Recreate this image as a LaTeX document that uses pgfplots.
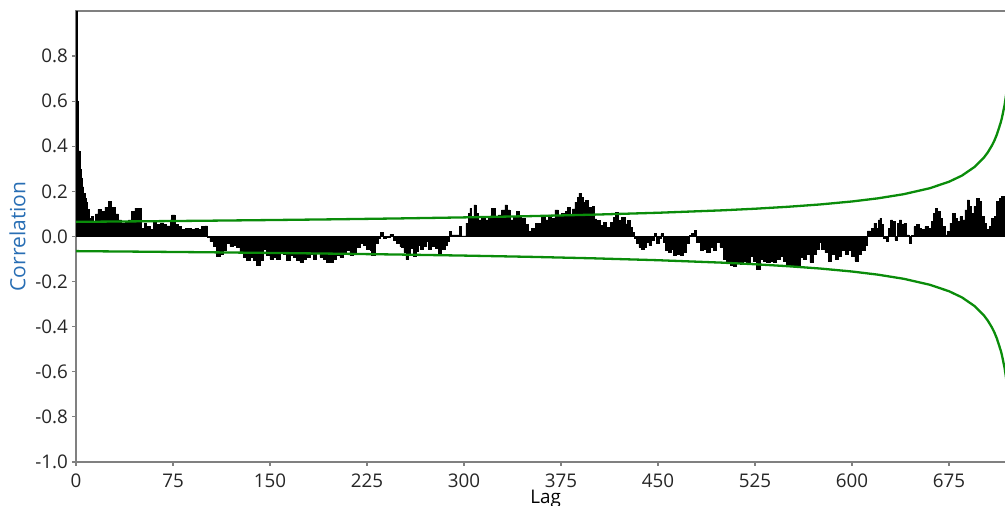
\documentclass[border=0pt]{standalone}
\usepackage{fontspec}
\setmainfont{Open Sans}
\usepackage{pgfplots}
\usepackage{pgfplotstable}
\pgfplotsset{compat=1.18}
\definecolor{bandgreen}{RGB}{10,140,10}
\definecolor{labblue}{RGB}{40,110,180}

\pgfplotstableread{
lag acf
0 1.0
1 0.60
2 0.38
3 0.30
4 0.26
5 0.22
6 0.19
7 0.17
8 0.15
9 0.12
10.5 0.08
12 0.09
13.5 0.067
15 0.10
17 0.12
19.8 0.11
22.4 0.13
25 0.155
27.6 0.13
30.2 0.10
32.7 0.074
35.3 0.06
37.9 0.067
40.5 0.074
43 0.11
45.6 0.126
48.2 0.126
50.8 0.037
52.6 0.06
54.6 0.044
57.2 0.03
59.8 0.067
62.4 0.052
65 0.06
67.5 0.052
70.1 0.047
72.7 0.074
74 0.096
76.5 0.052
79.1 0.044
81.7 0.03
84.3 0.037
86.8 0.037
89.4 0.033
92 0.037
94.6 0.03
97.2 0.044
99.7 0.047
101.5 -0.005
103.6 -0.022
106.2 -0.044
108.7 -0.089
111.3 -0.081
113.9 -0.06
116.5 -0.03
119 -0.044
121.6 -0.037
124.2 -0.05
126.8 -0.069
129.3 -0.091
131.9 -0.106
134.5 -0.091
137.1 -0.106
139.6 -0.128
142.2 -0.106
144.8 -0.055
147.4 -0.084
150 -0.099
152.5 -0.091
155.1 -0.099
157.7 -0.069
160.3 -0.077
162.8 -0.106
165.4 -0.084
168 -0.091
170.6 -0.106
173.1 -0.114
175.7 -0.099
178.3 -0.091
180.9 -0.077
183.5 -0.099
186 -0.069
188.6 -0.091
191.2 -0.099
193.8 -0.114
196.3 -0.114
198.9 -0.099
201.5 -0.084
204.1 -0.091
206.7 -0.077
209.2 -0.062
211.8 -0.084
214.4 -0.069
217 -0.047
219.5 -0.032
222.1 -0.04
224.7 -0.055
227.3 -0.062
228.6 -0.084
231.1 -0.032
233.7 -0.01
235.5 0.019
237.6 -0.01
240.2 -0.003
242.7 0.009
245.3 -0.018
247.9 -0.032
250.5 -0.045
251.8 -0.05
253.6 -0.07
255.1 -0.103
256.9 -0.074
258.7 -0.052
260.8 -0.088
262.9 -0.066
264.7 -0.037
266.5 -0.059
268.5 -0.044
270.6 -0.022
272.4 -0.059
275 -0.044
277.6 -0.052
280.1 -0.074
282.7 -0.059
285.3 -0.037
287.1 -0.022
288.6 0.022
290.4 0.007
293 0.007
296.4 0.044
298.2 0.003
300 0.003
301.5 0.059
303.3 0.103
304.6 0.125
305.9 0.088
307.7 0.14
309.3 0.103
311.1 0.074
313.6 0.081
316.2 0.074
318.8 0.088
321.4 0.125
323.9 0.088
326.5 0.096
329.1 0.118
331.7 0.14
333.5 0.118
335.5 0.074
338.1 0.088
340.7 0.111
342.5 0.088
344.6 0.081
347.1 0.052
349.7 0.022
352.3 0.037
354.9 0.059
357.4 0.059
360 0.088
362.6 0.074
365.2 0.096
367.8 0.081
370.3 0.118
372.9 0.088
375.5 0.103
378.1 0.11
380.2 0.13
382 0.10
383.8 0.122
385.8 0.152
387.9 0.174
388.9 0.192
390.5 0.174
392.3 0.152
394.1 0.159
396.1 0.13
398.2 0.108
399.2 0.133
400.8 0.078
402.6 0.071
405.2 0.049
407.7 0.063
410.3 0.041
412.9 0.063
415.5 0.086
417.3 0.108
419.3 0.071
421.9 0.086
424.5 0.056
426.5 0.071
428.3 0.041
430.2 0.019
431.7 -0.01
433.5 -0.032
435.3 -0.047
437.4 -0.055
439.4 -0.047
441.2 -0.025
443 -0.04
445.1 -0.018
447.2 0.015
449 -0.032
450.8 -0.01
452.3 0.012
454.1 -0.025
455.9 -0.062
458 -0.069
460.1 -0.055
461.9 -0.084
464.4 -0.077
467 -0.084
469.6 -0.069
472.2 -0.032
474 0.004
476 0.015
478.1 0.027
479.9 -0.025
482.5 -0.062
485 -0.055
487.6 -0.069
490.2 -0.047
492.8 -0.062
495.4 -0.025
497.9 -0.047
500.5 -0.099
503.1 -0.121
505.7 -0.128
508.3 -0.13
510.9 -0.115
513.4 -0.122
516 -0.108
518.6 -0.115
521.2 -0.086
523.7 -0.108
526.3 -0.145
528.9 -0.10
531.5 -0.108
534 -0.115
536.6 -0.108
539.2 -0.115
541.8 -0.10
544.4 -0.086
546.9 -0.108
549.5 -0.122
552.1 -0.13
554.7 -0.13
557.2 -0.13
559.8 -0.093
562.4 -0.10
565 -0.078
567.5 -0.115
570.1 -0.078
572.7 -0.056
574.5 -0.027
576.6 -0.056
579.1 -0.071
581.7 -0.108
584.3 -0.078
586.9 -0.10
589.5 -0.086
592 -0.063
594.6 -0.078
597.2 -0.063
599.8 -0.086
602.3 -0.108
604.9 -0.078
607.5 -0.063
610.1 -0.041
611.9 0.025
613.9 0.01
615.2 0.037
617 0.059
618.5 0.037
620.3 0.074
621.6 0.081
622.9 0.052
624.2 -0.007
626.3 -0.022
628.1 0.037
629.9 0.074
631.4 0.066
633.2 -0.015
635 0.059
636.6 0.074
638.4 0.052
640.2 0.059
642.2 0.007
644.1 -0.03
646.1 0.005
647.9 0.044
650 0.052
652 0.037
653.8 0.03
656.4 0.044
659 0.037
661.1 0.066
662.9 0.103
664.7 0.125
666.2 0.111
668 0.081
670.1 0.044
671.9 0.007
673.7 0.022
675.7 0.059
677.8 0.103
679.6 0.081
681.4 0.066
683.5 0.088
685.5 0.074
687.3 0.118
689.1 0.162
690.7 0.133
692.5 0.103
694.3 0.133
696.4 0.17
698.4 0.155
700.2 0.088
702 0.059
704.1 0.03
706.2 0.044
708 0.081
709.8 0.088
711.8 0.155
713.9 0.17
715.7 0.177
717.5 0.147
720 0.147
}\acfdata

\pgfplotstableread{
lag up lo
0 0.0649 -0.0649
50 0.0673 -0.0673
100 0.0699 -0.0699
150 0.0729 -0.0729
200 0.0762 -0.0762
250 0.0801 -0.0801
300 0.0847 -0.0847
350 0.0901 -0.0901
400 0.0968 -0.0968
450 0.1052 -0.1052
500 0.1161 -0.1161
525 0.1231 -0.1231
550 0.1316 -0.1316
575 0.1419 -0.1419
600 0.1553 -0.1553
620 0.1692 -0.1692
640 0.1876 -0.1876
660 0.2138 -0.2138
675 0.2427 -0.2427
685 0.2700 -0.2700
695 0.3094 -0.3094
702 0.3500 -0.3500
705 0.3730 -0.3730
708 0.4015 -0.4015
710 0.4240 -0.4240
712 0.4519 -0.4519
715 0.5052 -0.5052
716 0.5280 -0.5280
718 0.5833 -0.5833
720 0.6610 -0.6610
}\banddata

\begin{document}
\begin{tikzpicture}
\clip (-38pt,-22pt) rectangle (464.5pt,231pt);
\begin{axis}[
  at={(0,0)}, anchor=south west,
  width=465.6pt, height=225.5pt, scale only axis,
  xmin=0, xmax=720, ymin=-1, ymax=1,
  xtick={0,75,150,225,300,375,450,525,600,675},
  ytick={-1,-0.8,-0.6,-0.4,-0.2,0,0.2,0.4,0.6,0.8},
  tick align=outside, xtick pos=bottom, ytick pos=left,
  major tick length=2pt,
  axis line style={black!50, line width=0.9pt},
  tick style={black!50, line width=0.6pt},
  ticklabel style={font=\fontsize{9.4}{10}\selectfont, text=black!85},
  /pgf/number format/assume math mode=true,
  y tick label style={/pgf/number format/.cd, fixed, fixed zerofill, precision=1, /tikz/.cd, xshift=1.5pt},
  x tick label style={/pgf/number format/.cd, fixed, precision=0, /tikz/.cd, yshift=-0.5pt},
  xlabel={Lag}, ylabel={Correlation},
  xlabel style={font=\fontsize{9.4}{10}\selectfont, text=black, yshift=5.8pt, xshift=2pt},
  ylabel style={font=\fontsize{10.5}{11}\selectfont, text=labblue},
  ylabel shift=-2pt,
]
\addplot[const plot, fill=black, draw=black, line width=0.3pt] table[x=lag,y=acf]{\acfdata} \closedcycle;
\addplot[black, line width=0.4pt] coordinates {(0,0) (720,0)};
\addplot[bandgreen, line width=1.15pt] table[x=lag,y=up]{\banddata};
\addplot[bandgreen, line width=1.15pt] table[x=lag,y=lo]{\banddata};
\end{axis}
\end{tikzpicture}
\end{document}
